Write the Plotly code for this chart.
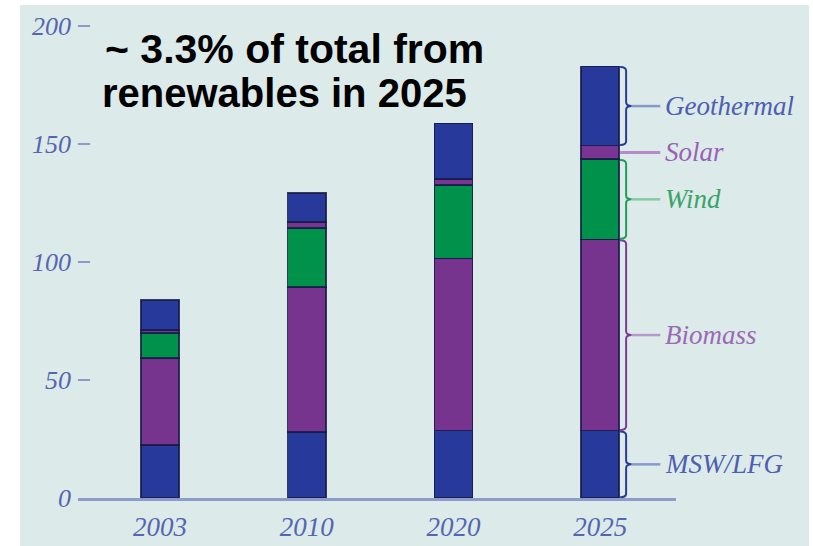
import plotly.graph_objects as go

years = ["2003", "2010", "2020", "2025"]
msw = [22.5, 28, 28.5, 28.5]
biomass = [36.7, 61.4, 73, 81]
wind = [10.6, 25, 31, 34]
solar = [1.4, 2.6, 2.6, 5.7]
geothermal = [12.7, 12.2, 23.6, 33.6]
y_ticks = [0, 50, 100, 150, 200]

series = [
    ("MSW/LFG", msw, "#27399a", "#2a3a98", "#8a98cc"),
    ("Biomass", biomass, "#77348f", "#7c3a98", "#b598cc"),
    ("Wind", wind, "#00924a", "#1f9e5a", "#88c8a4"),
    ("Solar", solar, "#7a3592", None, "#b48ac8"),
    ("Geothermal", geothermal, "#27399a", "#2a3a98", "#8a98cc"),
]
label_colors = {"MSW/LFG": "#4e5eb0", "Biomass": "#9a6ab4", "Wind": "#3aa468",
                "Solar": "#9a62b4", "Geothermal": "#4e5eb0"}

# plot area geometry (pixels)
L, R, T, B = 78, 676, 14, 498
PW, PH = R - L, B - T

def px(x):
    return (x - L) / PW

def py(y):
    return (B - y) / PH

xs = list(range(len(years)))
fig = go.Figure()
for name, vals, col, _, _ in series:
    fig.add_trace(go.Bar(
        x=xs, y=vals, name=name, width=0.26,
        marker=dict(color=col, line=dict(color="rgba(22,28,70,0.85)", width=1.5)),
    ))

# background panel
shapes = [dict(type="rect", xref="paper", yref="paper", layer="below",
               x0=px(20), x1=px(809), y0=py(546), y1=py(5),
               fillcolor="#dcebea", line=dict(width=0))]

annotations = []
last = len(years) - 1
base = 0.0
xa, xb, xc, xe, xl = 3.136, 3.177, 3.215, 3.41, 3.43
for name, vals, col, brace_col, line_col in series:
    v = vals[last]
    y0, y1 = base, base + v
    mid = (y0 + y1) / 2
    base = y1
    if brace_col:
        r = 1.6
        path = (f"M {xa},{y0+0.3} Q {xb},{y0+0.3} {xb},{y0+r+0.3} "
                f"L {xb},{mid-r} Q {xb},{mid} {xc},{mid} "
                f"Q {xb},{mid} {xb},{mid+r} L {xb},{y1-r-0.3} "
                f"Q {xb},{y1-0.3} {xa},{y1-0.3}")
        shapes.append(dict(type="path", xref="x", yref="y", path=path,
                           line=dict(color=brace_col, width=2)))
        shapes.append(dict(type="line", xref="x", yref="y", x0=xc, x1=xe,
                           y0=mid, y1=mid, line=dict(color=line_col, width=2.5)))
    else:
        shapes.append(dict(type="line", xref="x", yref="y", x0=xa, x1=xe,
                           y0=mid, y1=mid, line=dict(color=line_col, width=3)))
    annotations.append(dict(x=xl, y=mid, xref="x", yref="y", text=name,
                            showarrow=False, xanchor="left", yanchor="middle",
                            font=dict(family="Liberation Serif", size=27,
                                      color=label_colors[name], style="italic")))

annotations.append(dict(x=px(103), y=py(49), xref="paper", yref="paper",
                        text="<b>~ 3.3% of total from</b>", showarrow=False,
                        xanchor="left", yanchor="middle",
                        font=dict(family="Liberation Sans", size=41, color="#000000")))
annotations.append(dict(x=px(100), y=py(93), xref="paper", yref="paper",
                        text="<b>renewables in 2025</b>", showarrow=False,
                        xanchor="left", yanchor="middle",
                        font=dict(family="Liberation Sans", size=40, color="#000000")))

tick_font = dict(family="Liberation Serif", size=26, color="#5565b0", style="italic")
fig.update_layout(
    width=813, height=546,
    margin=dict(l=L, r=813 - R, t=T, b=546 - B, autoexpand=False),
    paper_bgcolor="white", plot_bgcolor="#dcebea",
    barmode="stack", showlegend=False,
    shapes=shapes, annotations=annotations,
    xaxis=dict(range=[-0.559, 3.517], tickvals=xs, ticktext=years,
               showline=True, linecolor="#8d9bc8", linewidth=3,
               showgrid=False, zeroline=False, ticks="", automargin=False,
               tickfont=dict(family="Liberation Serif", size=27, color="#5565b0", style="italic"),
               ticklabelstandoff=3),
    yaxis=dict(range=[0, 205], tickvals=y_ticks, showline=False, showgrid=False,
               zeroline=False, ticks="inside", ticklen=12, tickwidth=2, automargin=False,
               tickcolor="#8d9bc8", tickfont=tick_font, ticklabelstandoff=6),
)
fig.write_html("out.html")
